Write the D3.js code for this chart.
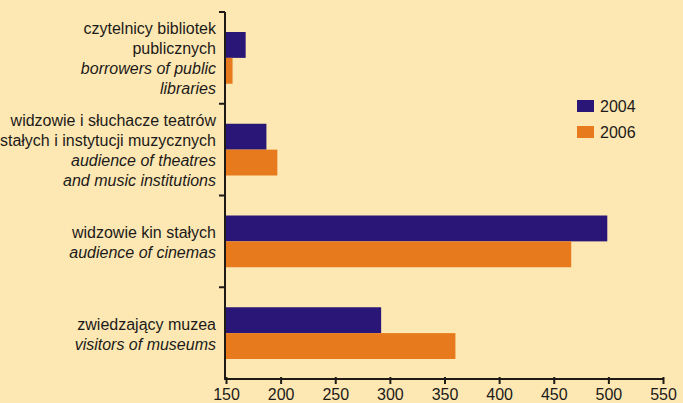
<!DOCTYPE html>
<html>
<head>
<meta charset="utf-8">
<script src="https://cdn.jsdelivr.net/npm/d3@7"></script>
<style>
  html, body { margin: 0; padding: 0; background: #fde8b4; }
  svg { display: block; }
  text { font-family: "Liberation Sans", Arial, Helvetica, sans-serif; fill: #1c1a18; }
</style>
</head>
<body>
<svg id="chart" width="683" height="403"></svg>
<script>
// Categories: Polish label lines, then English (italic) lines
const categoryIds = ["libraries", "theatres", "cinemas", "museums"];
const labelsPl = [
  ["czytelnicy bibliotek", "publicznych"],
  ["widzowie i słuchacze teatrów", "stałych i instytucji muzycznych"],
  ["widzowie kin stałych"],
  ["zwiedzający muzea"]
];
const labelsEn = [
  ["borrowers of public", "libraries"],
  ["audience of theatres", "and music institutions"],
  ["audience of cinemas"],
  ["visitors of museums"]
];
const years = ["2004", "2006"];
const values2004 = [168, 187, 499, 292];
const values2006 = [156, 197, 466, 360];
const xTicks = [150, 200, 250, 300, 350, 400, 450, 500, 550];

const colors = { "2004": "#2a1676", "2006": "#e77a1c" };

const rows = categoryIds.map((id, i) => ({
  id, pl: labelsPl[i], en: labelsEn[i],
  values: { "2004": values2004[i], "2006": values2006[i] }
}));

const svg = d3.select("#chart");

const x = d3.scaleLinear().domain([150, 550]).range([226, 663]);
const y = d3.scaleBand().domain(categoryIds).range([12, 379]).padding(0);
const bw = y.bandwidth();
const yInner = d3.scaleBand().domain(years).range([20, bw - 20]).padding(0);

// Bars
const groups = svg.append("g").selectAll("g")
  .data(rows).join("g")
  .attr("transform", d => `translate(0,${y(d.id)})`);

groups.selectAll("rect")
  .data(d => years.map(yr => ({ yr, v: d.values[yr] })))
  .join("rect")
  .attr("x", x(150) - 1)
  .attr("y", d => yInner(d.yr))
  .attr("width", d => x(d.v) - x(150) + 1)
  .attr("height", yInner.bandwidth())
  .attr("fill", d => colors[d.yr]);

// Category labels
const lineH = 20;
groups.each(function(d) {
  const lines = d.pl.map(t => ({ t, it: false })).concat(d.en.map(t => ({ t, it: true })));
  const n = lines.length;
  const g = d3.select(this);
  g.selectAll("text.cat")
    .data(lines).join("text")
    .attr("class", "cat")
    .attr("x", 216)
    .attr("y", (l, i) => bw / 2 + 6.5 + (i - (n - 1) / 2) * lineH)
    .attr("text-anchor", "end")
    .attr("font-size", 16)
    .attr("font-style", l => l.it ? "italic" : "normal")
    .text(l => l.t);
});

// Left axis with ticks at category boundaries
const boundaries = categoryIds.map(c => y(c)).concat([y.range()[1]]);
const axisColor = "#1e1a16";
svg.append("line")
  .attr("x1", 225).attr("x2", 225)
  .attr("y1", y.range()[0]).attr("y2", y.range()[1] + 1)
  .attr("stroke", axisColor).attr("stroke-width", 2);
svg.append("g").selectAll("line")
  .data(boundaries.slice(0, -1)).join("line")
  .attr("x1", 219).attr("x2", 225)
  .attr("y1", d => d).attr("y2", d => d)
  .attr("stroke", axisColor).attr("stroke-width", 2);

// Bottom axis
const xAxis = d3.axisBottom(x).tickValues(xTicks).tickSize(5).tickPadding(5).tickFormat(d3.format("d"));
const gx = svg.append("g").attr("transform", `translate(0,${y.range()[1]})`).call(xAxis);
gx.select(".domain").attr("stroke", axisColor).attr("stroke-width", 2).attr("d", `M224,0H${x(550) + 1}`);
gx.selectAll(".tick line").attr("stroke", axisColor).attr("stroke-width", 2).attr("y1", -2);
gx.selectAll(".tick text").attr("font-size", 16).attr("fill", "#1c1a18")
  .attr("font-family", "'Liberation Sans', Arial, Helvetica, sans-serif");

// Legend
const legend = svg.append("g").selectAll("g")
  .data(years).join("g")
  .attr("transform", (d, i) => `translate(577,${100 + i * 26})`);
legend.append("rect")
  .attr("width", 17).attr("height", 12)
  .attr("fill", d => colors[d]);
legend.append("text")
  .attr("x", 23).attr("y", 11.5)
  .attr("font-size", 16)
  .text(d => d);
</script>
</body>
</html>
